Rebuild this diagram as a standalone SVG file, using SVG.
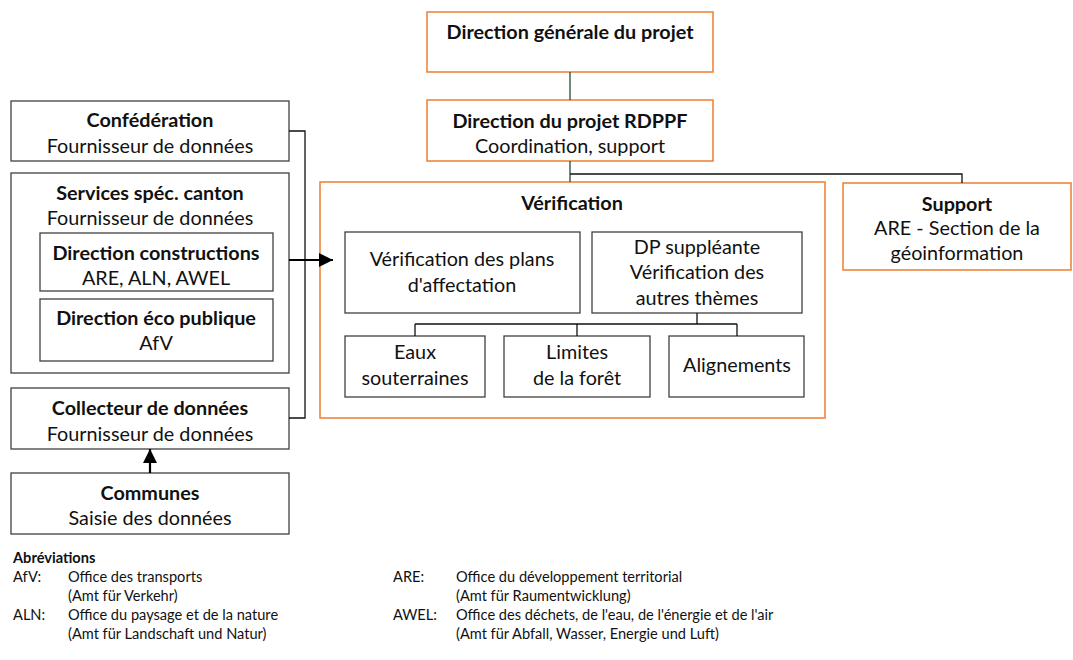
<svg xmlns="http://www.w3.org/2000/svg" width="1073" height="660" viewBox="0 0 1073 660">
  <style>
    text { font-family: Lato, "Open Sans", "Liberation Sans", sans-serif; fill: #111; }
    .t { font-size: 19.8px; text-anchor: middle; }
    .b { font-weight: bold; }
    .lg { font-size: 14.6px; }
    .org { fill: #fff; stroke: #ED7D31; stroke-width: 1.5; }
    .box { fill: #fff; stroke: #404040; stroke-width: 1.3; }
    .ln { fill: none; stroke: #111; stroke-width: 1.3; }
    .gr { fill: none; stroke: #1f4e2f; stroke-width: 1.3; }
    .ar { fill: none; stroke: #000; stroke-width: 2.2; }
  </style>
  <defs>
    <marker id="head" viewBox="0 0 10 10" refX="10" refY="5" markerWidth="6.5" markerHeight="6.5" markerUnits="strokeWidth" orient="auto">
      <path d="M0,0 L10,5 L0,10 Z" fill="#000"/>
    </marker>
  </defs>
  <rect width="1073" height="660" fill="#fff"/>

  <g id="dir-generale">
    <rect class="org" x="427" y="12" width="286" height="60"/>
    <text class="t b" x="570" y="39">Direction générale du projet</text>
  </g>

  <g id="dir-projet">
    <rect class="org" x="427" y="100" width="286" height="61"/>
    <text class="t b" x="570" y="128">Direction du projet RDPPF</text>
    <text class="t" x="570" y="153">Coordination, support</text>
  </g>

  <g id="verification">
    <rect class="org" x="320" y="182" width="505" height="236"/>
    <text class="t b" x="572" y="210">Vérification</text>
  </g>

  <g id="plans-affectation">
    <rect class="box" x="345" y="232" width="235" height="81"/>
    <text class="t" x="462" y="266">Vérification des plans</text>
    <text class="t" x="462" y="292">d'affectation</text>
  </g>

  <g id="dp-suppleante">
    <rect class="box" x="592" y="232" width="210" height="81"/>
    <text class="t" x="697" y="254">DP suppléante</text>
    <text class="t" x="697" y="279">Vérification des</text>
    <text class="t" x="697" y="305">autres thèmes</text>
  </g>

  <g id="eaux">
    <rect class="box" x="345" y="336" width="140" height="61"/>
    <text class="t" x="415" y="359">Eaux</text>
    <text class="t" x="415" y="385">souterraines</text>
  </g>

  <g id="limites">
    <rect class="box" x="504" y="336" width="146" height="61"/>
    <text class="t" x="577" y="359">Limites</text>
    <text class="t" x="577" y="385">de la forêt</text>
  </g>

  <g id="alignements">
    <rect class="box" x="669" y="336" width="135" height="61"/>
    <text class="t" x="737" y="372">Alignements</text>
  </g>

  <g id="support">
    <rect class="org" x="843" y="183" width="228" height="87"/>
    <text class="t b" x="957" y="211">Support</text>
    <text class="t" x="957" y="235">ARE - Section de la</text>
    <text class="t" x="957" y="260">géoinformation</text>
  </g>

  <g id="confederation">
    <rect class="box" x="11" y="101" width="278" height="60"/>
    <text class="t b" x="150" y="127">Confédération</text>
    <text class="t" x="150" y="153">Fournisseur de données</text>
  </g>

  <g id="services-canton">
    <rect class="box" x="11" y="173" width="278" height="200"/>
    <text class="t b" x="150" y="200">Services spéc. canton</text>
    <text class="t" x="150" y="225">Fournisseur de données</text>
  </g>

  <g id="dir-constructions">
    <rect class="box" x="40" y="233" width="233" height="58"/>
    <text class="t b" x="156" y="260">Direction constructions</text>
    <text class="t" x="156" y="285">ARE, ALN, AWEL</text>
  </g>

  <g id="dir-eco">
    <rect class="box" x="40" y="299" width="233" height="62"/>
    <text class="t b" x="156" y="325">Direction éco publique</text>
    <text class="t" x="156" y="350">AfV</text>
  </g>

  <g id="collecteur">
    <rect class="box" x="11" y="388" width="278" height="61"/>
    <text class="t b" x="150" y="415">Collecteur de données</text>
    <text class="t" x="150" y="441">Fournisseur de données</text>
  </g>

  <g id="communes">
    <rect class="box" x="11" y="473" width="278" height="61"/>
    <text class="t b" x="150" y="500">Communes</text>
    <text class="t" x="150" y="525">Saisie des données</text>
  </g>

  <!-- connectors, drawn above the boxes so the arrowheads stay visible -->
  <g id="connectors">
    <path class="gr" d="M570,72 V100"/>
    <path class="gr" d="M570,161 V182"/>
    <path class="ln" d="M570,174 H962 V183"/>
    <path class="ln" d="M289,131 H305 V418 H289"/>
    <path class="ln" d="M697,313 V324 M415,324 H737 M415,324 V336 M577,324 V336 M737,324 V336"/>
    <path class="ar" d="M289,260 H333" marker-end="url(#head)"/>
    <path class="ar" d="M150,473 V449" marker-end="url(#head)"/>
  </g>

  <!-- abbreviations legend -->
  <g id="legend" class="lg">
    <text class="b" x="13" y="563">Abréviations</text>
    <text x="13" y="582">AfV:</text>
    <text x="68" y="582">Office des transports</text>
    <text x="68" y="601">(Amt für Verkehr)</text>
    <text x="13" y="620">ALN:</text>
    <text x="68" y="620">Office du paysage et de la nature</text>
    <text x="68" y="639">(Amt für Landschaft und Natur)</text>
    <text x="393" y="582">ARE:</text>
    <text x="456" y="582">Office du développement territorial</text>
    <text x="456" y="601">(Amt für Raumentwicklung)</text>
    <text x="393" y="620">AWEL:</text>
    <text x="456" y="620">Office des déchets, de l'eau, de l'énergie et de l'air</text>
    <text x="456" y="639">(Amt für Abfall, Wasser, Energie und Luft)</text>
  </g>
</svg>
